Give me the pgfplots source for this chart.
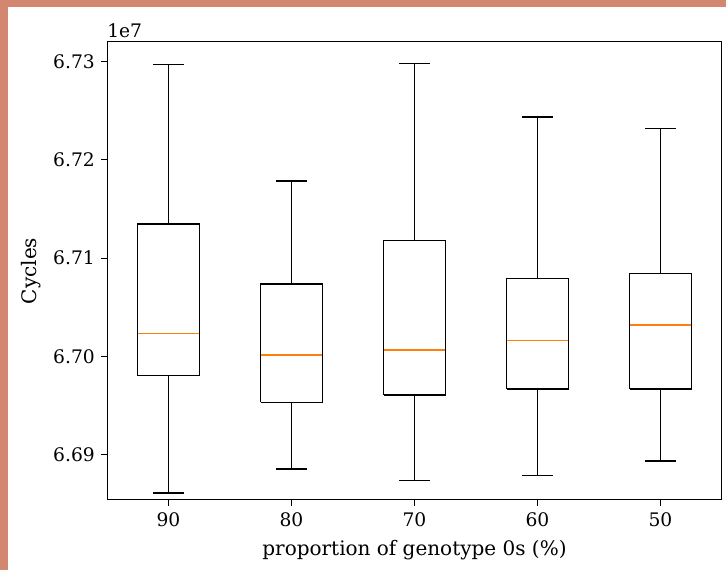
\documentclass[border=0pt]{standalone}
\usepackage{fontspec}
\setmainfont{DejaVu Serif}
\usepackage{pgfplots}
\pgfplotsset{compat=1.18}
\definecolor{salmon}{RGB}{211,134,112}
\definecolor{mplorange}{HTML}{FF7F0E}
\begin{document}
\fontsize{14}{17}\selectfont
\begin{tikzpicture}
\useasboundingbox (0,0) rectangle (544.5pt,427.5pt);
\fill[salmon] (0,0) rectangle (6pt,427.5pt);
\fill[salmon] (0,422.25pt) rectangle (544.5pt,427.5pt);
\begin{axis}[
  at={(80.25pt,52.5pt)}, anchor=south west,
  scale only axis, width=461.25pt, height=343.5pt,
  xmin=0.5, xmax=5.5, ymin=6.6854, ymax=6.73199,
  xtick={1,2,3,4,5}, xticklabels={90,80,70,60,50},
  ytick={6.69,6.70,6.71,6.72,6.73},
  yticklabel style={/pgf/number format/.cd, fixed, fixed zerofill, precision=2},
  /pgf/number format/assume math mode=true,
  scaled y ticks=false,
  xtick pos=left, ytick pos=left, tick align=outside,
  major tick length=4.3pt,
  every tick/.style={black, line width=0.75pt},
  axis line style={line width=0.75pt},
  tick label style={font=\fontsize{14}{17}\selectfont},
  label style={font=\fontsize{15}{18}\selectfont},
  xlabel={proportion of genotype 0s (\%)},
  ylabel={Cycles},
  xlabel style={yshift=-1pt},
  unbounded coords=jump,
  clip=false,
]
% box 90
\addplot[black, line width=1.1pt] coordinates {(0.75,6.69806)(1.25,6.69806)(1.25,6.71346)(0.75,6.71346)(0.75,6.69806) (nan,nan) (1,6.71346)(1,6.72969) (nan,nan) (0.875,6.72969)(1.125,6.72969) (nan,nan) (1,6.69806)(1,6.68613) (nan,nan) (0.875,6.68613)(1.125,6.68613)};
\addplot[mplorange, line width=1.1pt] coordinates {(0.75,6.70236)(1.25,6.70236)};
% box 80
\addplot[black, line width=1.1pt] coordinates {(1.75,6.69534)(2.25,6.69534)(2.25,6.70738)(1.75,6.70738)(1.75,6.69534) (nan,nan) (2,6.70738)(2,6.71785) (nan,nan) (1.875,6.71785)(2.125,6.71785) (nan,nan) (2,6.69534)(2,6.68853) (nan,nan) (1.875,6.68853)(2.125,6.68853)};
\addplot[mplorange, line width=1.1pt] coordinates {(1.75,6.70016)(2.25,6.70016)};
% box 70
\addplot[black, line width=1.1pt] coordinates {(2.75,6.69607)(3.25,6.69607)(3.25,6.71178)(2.75,6.71178)(2.75,6.69607) (nan,nan) (3,6.71178)(3,6.72979) (nan,nan) (2.875,6.72979)(3.125,6.72979) (nan,nan) (3,6.69607)(3,6.68738) (nan,nan) (2.875,6.68738)(3.125,6.68738)};
\addplot[mplorange, line width=1.1pt] coordinates {(2.75,6.70068)(3.25,6.70068)};
% box 60
\addplot[black, line width=1.1pt] coordinates {(3.75,6.69670)(4.25,6.69670)(4.25,6.70791)(3.75,6.70791)(3.75,6.69670) (nan,nan) (4,6.70791)(4,6.72435) (nan,nan) (3.875,6.72435)(4.125,6.72435) (nan,nan) (4,6.69670)(4,6.68791) (nan,nan) (3.875,6.68791)(4.125,6.68791)};
\addplot[mplorange, line width=1.1pt] coordinates {(3.75,6.70162)(4.25,6.70162)};
% box 50
\addplot[black, line width=1.1pt] coordinates {(4.75,6.69667)(5.25,6.69667)(5.25,6.70843)(4.75,6.70843)(4.75,6.69667) (nan,nan) (5,6.70843)(5,6.72319) (nan,nan) (4.875,6.72319)(5.125,6.72319) (nan,nan) (5,6.69667)(5,6.68937) (nan,nan) (4.875,6.68937)(5.125,6.68937)};
\addplot[mplorange, line width=1.1pt] coordinates {(4.75,6.70319)(5.25,6.70319)};
\node[anchor=south west, inner sep=0pt, font=\fontsize{14}{17}\selectfont] at (rel axis cs:0,1) [yshift=3pt] {1e7};
\end{axis}
\end{tikzpicture}
\end{document}
